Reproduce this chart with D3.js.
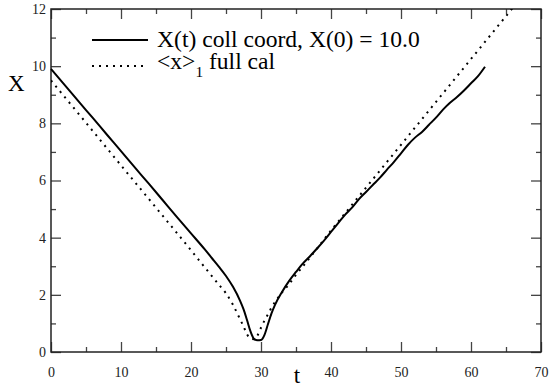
<!DOCTYPE html>
<html><head><meta charset="utf-8">
<script src="https://cdn.jsdelivr.net/npm/d3@7/dist/d3.min.js"></script>
<style>body{margin:0;background:#fff}svg{display:block}
.sf{font-family:"Liberation Serif","DejaVu Serif","Times New Roman",serif;}
</style>
</head><body>
<svg id="c" width="549" height="387"></svg>
<script>
const solidT = [0,2,4,6,8,10,12,14,16,18,20,22,23,24,25,26,27,27.5,28,28.5,29,29.5,30,30.5,31,31.5,32,33,34,35,36,37,38,39,40,41,42,43,44,45,46,47,48,49,50,51,52,53,54,55,56,57,58,59,60,61,62];
const solidX = [9.9,9.33,8.75,8.18,7.6,7.03,6.45,5.88,5.3,4.72,4.15,3.58,3.28,2.98,2.66,2.28,1.8,1.5,1.12,0.72,0.46,0.41,0.42,0.6,0.98,1.35,1.65,2.1,2.48,2.8,3.1,3.35,3.62,3.9,4.2,4.5,4.8,5.05,5.35,5.6,5.85,6.1,6.38,6.65,6.95,7.25,7.5,7.7,7.95,8.2,8.48,8.72,8.92,9.15,9.4,9.65,9.98];
const dotT = [0,5,10,15,20,22,24,25,26,27,27.5,28,28.5,29,29.5,30,30.5,31,31.5,32,33,34,35,36,38,40,42,44,46,48,50,52,54,56,58,60,62,64,66];
const dotX = [9.5,8.02,6.53,5.05,3.56,2.95,2.35,2.05,1.65,1.15,0.9,0.62,0.47,0.45,0.58,0.85,1.1,1.32,1.55,1.75,2.08,2.37,2.7,3.0,3.62,4.25,4.85,5.45,6.05,6.65,7.25,7.85,8.45,9.05,9.65,10.25,10.85,11.45,12.05];
const xMajor = [0,10,20,30,40,50,60,70];
const xMinor = [5,15,25,35,45,55,65];
const yMajor = [0,2,4,6,8,10,12];
const yMinor = [1,3,5,7,9,11];
const legendLabels = ["X(t) coll coord, X(0) = 10.0", "<x>", "1", " full cal"];

const L=51, R=541, T=9, B=352;
const svg = d3.select("#c");
const x = d3.scaleLinear().domain([0,70]).range([L,R]);
const y = d3.scaleLinear().domain([0,12]).range([B,T]);

svg.append("defs").append("clipPath").attr("id","clip")
  .append("rect").attr("x",L).attr("y",T).attr("width",R-L).attr("height",B-T);

function styleAxis(g){
  g.attr("font-family",null);
  g.select(".domain").remove();
  g.selectAll(".tick line").attr("stroke","#444").attr("stroke-width",1.3);
  g.selectAll(".tick text").attr("class","sf").attr("font-size",14).attr("fill","#222");
}
svg.append("g").attr("transform",`translate(0,${B})`)
  .call(d3.axisBottom(x).tickValues(xMajor).tickSize(-10).tickPadding(15).tickFormat(d3.format("d"))).call(styleAxis);
svg.append("g").attr("transform",`translate(0,${B})`)
  .call(d3.axisBottom(x).tickValues(xMinor).tickSize(-5).tickFormat("")).call(styleAxis);
svg.append("g").attr("transform",`translate(0,${T})`)
  .call(d3.axisTop(x).tickValues(xMajor).tickSize(-10).tickFormat("")).call(styleAxis);
svg.append("g").attr("transform",`translate(0,${T})`)
  .call(d3.axisTop(x).tickValues(xMinor).tickSize(-5).tickFormat("")).call(styleAxis);
svg.append("g").attr("transform",`translate(${L},0)`)
  .call(d3.axisLeft(y).tickValues(yMajor).tickSize(-10).tickPadding(5).tickFormat(d3.format("d"))).call(styleAxis);
svg.append("g").attr("transform",`translate(${L},0)`)
  .call(d3.axisLeft(y).tickValues(yMinor).tickSize(-5).tickFormat("")).call(styleAxis);
svg.append("g").attr("transform",`translate(${R},0)`)
  .call(d3.axisRight(y).tickValues(yMajor).tickSize(-10).tickFormat("")).call(styleAxis);
svg.append("g").attr("transform",`translate(${R},0)`)
  .call(d3.axisRight(y).tickValues(yMinor).tickSize(-5).tickFormat("")).call(styleAxis);

svg.append("rect").attr("x",L).attr("y",T).attr("width",R-L).attr("height",B-T)
  .attr("fill","none").attr("stroke","#222").attr("stroke-width",1.5);

const line = d3.line().x(d=>x(d[0])).y(d=>y(d[1])).curve(d3.curveMonotoneX);
svg.append("path").datum(dotT.map((t,i)=>[t,dotX[i]]))
  .attr("clip-path","url(#clip)")
  .attr("d",line).attr("fill","none").attr("stroke","#000").attr("stroke-width",2)
  .attr("stroke-dasharray","2,5");
svg.append("path").datum(solidT.map((t,i)=>[t,solidX[i]]))
  .attr("d",line).attr("fill","none").attr("stroke","#000").attr("stroke-width",2);

svg.append("text").attr("class","sf").attr("x",8).attr("y",91).attr("font-size",23).text("X");
svg.append("text").attr("class","sf").attr("x",297).attr("y",383).attr("text-anchor","middle").attr("font-size",23).text("t");

svg.append("line").attr("x1",92).attr("x2",148).attr("y1",40).attr("y2",40).attr("stroke","#000").attr("stroke-width",2);
svg.append("line").attr("x1",92).attr("x2",148).attr("y1",66).attr("y2",66).attr("stroke","#000").attr("stroke-width",2).attr("stroke-dasharray","2,5");
const t1 = svg.append("text").attr("class","sf").attr("x",157).attr("y",47).attr("font-size",22).text(legendLabels[0]);
// fit legend font size to the reference's text width
const w = t1.node().getComputedTextLength();
const fs = Math.max(18, Math.min(26, 22 * 263 / w));
t1.attr("font-size",fs);
const t2 = svg.append("text").attr("class","sf").attr("x",157).attr("y",69).attr("font-size",fs);
t2.append("tspan").text(legendLabels[1]);
t2.append("tspan").attr("dy",8).attr("font-size",fs*0.65).text(legendLabels[2]);
t2.append("tspan").attr("dy",-8).text(legendLabels[3]);
</script>
</body></html>
